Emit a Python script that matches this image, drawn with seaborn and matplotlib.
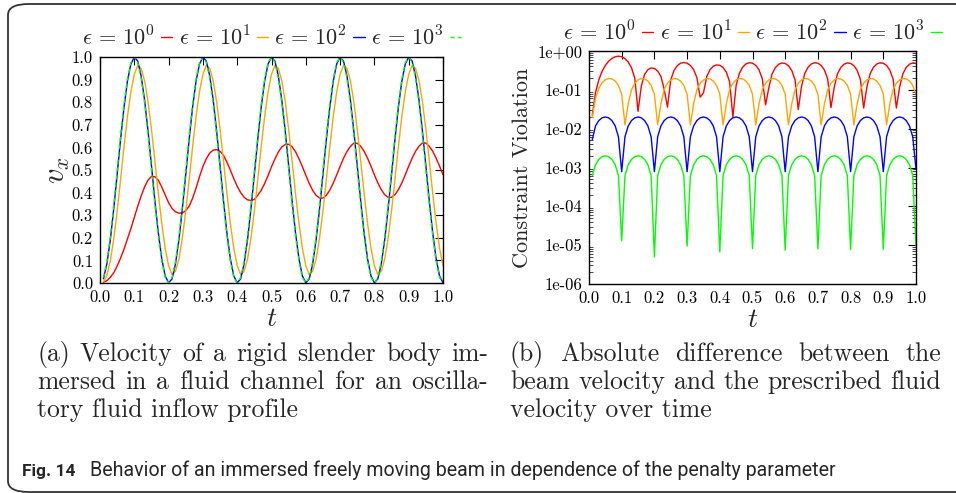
import numpy as np
import pandas as pd
import matplotlib
matplotlib.use("Agg")
import matplotlib.pyplot as plt
import matplotlib.ticker as mticker
from matplotlib.patches import FancyBboxPatch
import seaborn as sns

# ---------------- data ----------------
t = np.round(np.linspace(0.01, 1.0, 100), 2)

labels = [r"$\epsilon\,=\,10^0$", r"$\epsilon\,=\,10^1$", r"$\epsilon\,=\,10^2$", r"$\epsilon\,=\,10^3$"]
colors = ["#ff0000", "#ffa500", "#0000ff", "#00ff00"]

# (a) velocity v_x
vel_eps1 = [0.003, 0.010, 0.025, 0.045, 0.075, 0.110, 0.150, 0.195, 0.240, 0.290,
            0.340, 0.385, 0.425, 0.455, 0.472, 0.470, 0.455, 0.425, 0.390, 0.355,
            0.330, 0.315, 0.309, 0.310, 0.320, 0.340, 0.375, 0.420, 0.470, 0.515,
            0.550, 0.575, 0.588, 0.590, 0.583, 0.565, 0.535, 0.500, 0.462, 0.428,
            0.400, 0.380, 0.368, 0.365, 0.370, 0.388, 0.410, 0.440, 0.476, 0.514,
            0.549, 0.580, 0.602, 0.613, 0.614, 0.603, 0.581, 0.550, 0.515, 0.477,
            0.441, 0.410, 0.388, 0.376, 0.376, 0.388, 0.411, 0.442, 0.478, 0.516,
            0.552, 0.582, 0.604, 0.619, 0.618, 0.605, 0.583, 0.552, 0.517, 0.479,
            0.443, 0.413, 0.391, 0.379, 0.379, 0.391, 0.413, 0.443, 0.479, 0.517,
            0.552, 0.583, 0.605, 0.620, 0.619, 0.605, 0.583, 0.552, 0.517, 0.479]
vel_eps10 = [0.005, 0.034, 0.097, 0.194, 0.318, 0.458, 0.602, 0.736, 0.846, 0.923,
             0.963, 0.949, 0.895, 0.802, 0.680, 0.541, 0.397, 0.264, 0.154, 0.077,
             0.037, 0.052, 0.105, 0.198, 0.320, 0.459, 0.603, 0.736, 0.846, 0.923,
             0.963, 0.949, 0.895, 0.802, 0.680, 0.541, 0.397, 0.264, 0.154, 0.077,
             0.037, 0.052, 0.105, 0.198, 0.320, 0.459, 0.603, 0.736, 0.846, 0.923,
             0.963, 0.949, 0.895, 0.802, 0.680, 0.541, 0.397, 0.264, 0.154, 0.077,
             0.037, 0.052, 0.105, 0.198, 0.320, 0.459, 0.603, 0.736, 0.846, 0.923,
             0.963, 0.949, 0.895, 0.802, 0.680, 0.541, 0.397, 0.264, 0.154, 0.077,
             0.037, 0.052, 0.105, 0.198, 0.320, 0.459, 0.603, 0.736, 0.846, 0.923,
             0.963, 0.949, 0.895, 0.802, 0.680, 0.541, 0.397, 0.264, 0.154, 0.077]
vel_eps100 = [0.019, 0.084, 0.190, 0.327, 0.480, 0.636, 0.778, 0.893, 0.969, 0.999,
              0.982, 0.916, 0.810, 0.673, 0.520, 0.364, 0.222, 0.107, 0.031, 0.001,
              0.018, 0.084, 0.190, 0.327, 0.480, 0.636, 0.778, 0.893, 0.969, 0.999,
              0.982, 0.916, 0.810, 0.673, 0.520, 0.364, 0.222, 0.107, 0.031, 0.001,
              0.018, 0.084, 0.190, 0.327, 0.480, 0.636, 0.778, 0.893, 0.969, 0.999,
              0.982, 0.916, 0.810, 0.673, 0.520, 0.364, 0.222, 0.107, 0.031, 0.001,
              0.018, 0.084, 0.190, 0.327, 0.480, 0.636, 0.778, 0.893, 0.969, 0.999,
              0.982, 0.916, 0.810, 0.673, 0.520, 0.364, 0.222, 0.107, 0.031, 0.001,
              0.018, 0.084, 0.190, 0.327, 0.480, 0.636, 0.778, 0.893, 0.969, 0.999,
              0.982, 0.916, 0.810, 0.673, 0.520, 0.364, 0.222, 0.107, 0.031, 0.001]
vel_eps1000 = [0.024, 0.094, 0.204, 0.344, 0.498, 0.653, 0.792, 0.903, 0.975, 1.000,
               0.976, 0.906, 0.796, 0.656, 0.502, 0.347, 0.208, 0.097, 0.025, 0.000,
               0.024, 0.094, 0.204, 0.344, 0.498, 0.653, 0.792, 0.903, 0.975, 1.000,
               0.976, 0.906, 0.796, 0.656, 0.502, 0.347, 0.208, 0.097, 0.025, 0.000,
               0.024, 0.094, 0.204, 0.344, 0.498, 0.653, 0.792, 0.903, 0.975, 1.000,
               0.976, 0.906, 0.796, 0.656, 0.502, 0.347, 0.208, 0.097, 0.025, 0.000,
               0.024, 0.094, 0.204, 0.344, 0.498, 0.653, 0.792, 0.903, 0.975, 1.000,
               0.976, 0.906, 0.796, 0.656, 0.502, 0.347, 0.208, 0.097, 0.025, 0.000,
               0.024, 0.094, 0.204, 0.344, 0.498, 0.653, 0.792, 0.903, 0.975, 1.000,
               0.976, 0.906, 0.796, 0.656, 0.502, 0.347, 0.208, 0.097, 0.025, 0.000]

# (b) constraint violation (log scale)
cv_eps1 = [0.022, 0.086, 0.181, 0.300, 0.425, 0.545, 0.644, 0.710, 0.736, 0.710,
           0.636, 0.520, 0.369, 0.200, 0.028, 0.125, 0.249, 0.330, 0.366, 0.355,
           0.306, 0.220, 0.103, 0.036, 0.180, 0.315, 0.419, 0.485, 0.506, 0.485,
           0.426, 0.330, 0.206, 0.065, 0.083, 0.220, 0.329, 0.405, 0.438, 0.428,
           0.376, 0.285, 0.162, 0.020, 0.130, 0.267, 0.384, 0.465, 0.500, 0.486,
           0.427, 0.325, 0.192, 0.041, 0.114, 0.258, 0.375, 0.455, 0.491, 0.477,
           0.417, 0.315, 0.182, 0.031, 0.124, 0.267, 0.383, 0.463, 0.498, 0.484,
           0.424, 0.323, 0.190, 0.035, 0.118, 0.260, 0.377, 0.457, 0.493, 0.479,
           0.419, 0.318, 0.185, 0.034, 0.121, 0.264, 0.381, 0.462, 0.497, 0.483,
           0.424, 0.322, 0.189, 0.034, 0.119, 0.260, 0.377, 0.457, 0.493, 0.479]
cv_eps10 = [0.0195, 0.0615, 0.109, 0.152, 0.182, 0.196, 0.192, 0.168, 0.130, 0.077,
            0.0125, 0.044, 0.101, 0.148, 0.180, 0.196, 0.191, 0.169, 0.130, 0.077,
            0.0125, 0.044, 0.101, 0.148, 0.180, 0.196, 0.191, 0.168, 0.130, 0.077,
            0.0125, 0.044, 0.101, 0.148, 0.180, 0.196, 0.191, 0.169, 0.130, 0.077,
            0.0125, 0.044, 0.101, 0.148, 0.180, 0.196, 0.191, 0.168, 0.130, 0.077,
            0.0125, 0.044, 0.101, 0.148, 0.180, 0.196, 0.191, 0.169, 0.130, 0.077,
            0.0125, 0.044, 0.101, 0.148, 0.180, 0.196, 0.191, 0.168, 0.130, 0.077,
            0.0125, 0.044, 0.101, 0.148, 0.180, 0.196, 0.191, 0.169, 0.130, 0.077,
            0.0125, 0.044, 0.101, 0.148, 0.180, 0.196, 0.191, 0.168, 0.130, 0.077,
            0.0125, 0.044, 0.101, 0.148, 0.180, 0.196, 0.191, 0.169, 0.130, 0.077]
cv_eps100 = [0.0052, 0.0118, 0.0162, 0.0190, 0.0200, 0.0190, 0.0162, 0.0118, 0.0062, 0.00078,
             0.0062, 0.0118, 0.0162, 0.0190, 0.0200, 0.0190, 0.0162, 0.0118, 0.0062, 0.00078,
             0.0062, 0.0118, 0.0162, 0.0190, 0.0200, 0.0190, 0.0162, 0.0118, 0.0062, 0.00078,
             0.0062, 0.0118, 0.0162, 0.0190, 0.0200, 0.0190, 0.0162, 0.0118, 0.0062, 0.00078,
             0.0062, 0.0118, 0.0162, 0.0190, 0.0200, 0.0190, 0.0162, 0.0118, 0.0062, 0.00078,
             0.0062, 0.0118, 0.0162, 0.0190, 0.0200, 0.0190, 0.0162, 0.0118, 0.0062, 0.00078,
             0.0062, 0.0118, 0.0162, 0.0190, 0.0200, 0.0190, 0.0162, 0.0118, 0.0062, 0.00078,
             0.0062, 0.0118, 0.0162, 0.0190, 0.0200, 0.0190, 0.0162, 0.0118, 0.0062, 0.00078,
             0.0062, 0.0118, 0.0162, 0.0190, 0.0200, 0.0190, 0.0162, 0.0118, 0.0062, 0.00078,
             0.0062, 0.0118, 0.0162, 0.0190, 0.0200, 0.0190, 0.0162, 0.0118, 0.0062, 0.00090]
cv_eps1000 = [0.00062, 0.00118, 0.00162, 0.00190, 0.00200, 0.00190, 0.00162, 0.00118, 0.00062, 1.3e-5,
              0.00062, 0.00118, 0.00162, 0.00190, 0.00200, 0.00190, 0.00162, 0.00118, 0.00062, 5.0e-6,
              0.00062, 0.00118, 0.00162, 0.00190, 0.00200, 0.00190, 0.00162, 0.00118, 0.00062, 9.5e-6,
              0.00062, 0.00118, 0.00162, 0.00190, 0.00200, 0.00190, 0.00162, 0.00118, 0.00062, 6.7e-6,
              0.00062, 0.00118, 0.00162, 0.00190, 0.00200, 0.00190, 0.00162, 0.00118, 0.00062, 8.2e-6,
              0.00062, 0.00118, 0.00162, 0.00190, 0.00200, 0.00190, 0.00162, 0.00118, 0.00062, 7.4e-6,
              0.00062, 0.00118, 0.00162, 0.00190, 0.00200, 0.00190, 0.00162, 0.00118, 0.00062, 8.0e-6,
              0.00062, 0.00118, 0.00162, 0.00190, 0.00200, 0.00190, 0.00162, 0.00118, 0.00062, 7.7e-6,
              0.00062, 0.00118, 0.00162, 0.00190, 0.00200, 0.00190, 0.00162, 0.00118, 0.00062, 7.8e-6,
              0.00062, 0.00118, 0.00162, 0.00190, 0.00200, 0.00190, 0.00162, 0.00118, 0.00062, 1.0e-5]

xticks = [0.0, 0.1, 0.2, 0.3, 0.4, 0.5, 0.6, 0.7, 0.8, 0.9, 1.0]
yticks_a = [0.0, 0.1, 0.2, 0.3, 0.4, 0.5, 0.6, 0.7, 0.8, 0.9, 1.0]
yticks_b = [1e-6, 1e-5, 1e-4, 1e-3, 1e-2, 1e-1, 1e0]

caption_a = ["(a) Velocity of a rigid slender body im-",
             "mersed in a fluid channel for an oscilla-",
             "tory fluid inflow profile"]
caption_b = ["(b) Absolute difference between the",
             "beam velocity and the prescribed fluid",
             "velocity over time"]
fig_label = "Fig. 14"
fig_caption = "Behavior of an immersed freely moving beam in dependence of the penalty parameter"

# ---------------- style ----------------
sns.set_theme(style="white")
plt.rcParams["font.family"] = ["serif"]
plt.rcParams["font.serif"] = ["cmr10"]
plt.rcParams["mathtext.fontset"] = "cm"
plt.rcParams["axes.formatter.use_mathtext"] = True
plt.rcParams["axes.unicode_minus"] = False

W, H = 956, 493
fig = plt.figure(figsize=(W / 100, H / 100), dpi=100)
fig.patch.set_facecolor("white")


def fx(px):
    return px / W


def fy(py):
    return 1 - py / H


ax1 = fig.add_axes([fx(100), fy(283), fx(443) - fx(100), fy(57) - fy(283)])
ax2 = fig.add_axes([fx(589), fy(284), fx(916) - fx(589), fy(51) - fy(284)])

df_a = pd.DataFrame({"t": t, "e0": vel_eps1, "e1": vel_eps10, "e2": vel_eps100, "e3": vel_eps1000})
df_b = pd.DataFrame({"t": t, "e0": cv_eps1, "e1": cv_eps10, "e2": cv_eps100, "e3": cv_eps1000})
keys = ["e0", "e1", "e2", "e3"]

for i, k in enumerate(keys):
    ls = (0, (3, 2.5)) if k == "e3" else "-"
    sns.lineplot(data=df_a, x="t", y=k, ax=ax1, color=colors[i], linewidth=1.0,
                 linestyle=ls, legend=False, label=labels[i], sort=False)
    sns.lineplot(data=df_b, x="t", y=k, ax=ax2, color=colors[i], linewidth=1.0,
                 legend=False, label=labels[i], sort=False)

for ax in (ax1, ax2):
    ax.set_xlim(0, 1)
    ax.set_xticks(xticks)
    ax.xaxis.set_major_formatter(mticker.FormatStrFormatter("%.1f"))
    for s in ax.spines.values():
        s.set_color("black")
        s.set_linewidth(1.0)
    ax.tick_params(which="major", direction="in", top=True, right=True, length=6,
                   width=0.8, labelsize=12, pad=5, colors="black")
    ax.set_xlabel(r"$t$", fontsize=20, labelpad=0)
    ax.grid(False)
    ax.set_facecolor("white")

ax1.set_ylim(0, 1)
ax1.set_yticks(yticks_a)
ax1.yaxis.set_major_formatter(mticker.FormatStrFormatter("%.1f"))
ax1.set_ylabel(r"$v_x$", fontsize=22, labelpad=0)

ax2.set_yscale("log")
ax2.set_ylim(1e-6, 1e0)
ax2.set_yticks(yticks_b)
ax2.yaxis.set_major_formatter(mticker.FormatStrFormatter("%.0e"))
ax2.yaxis.set_minor_locator(mticker.LogLocator(base=10, subs=np.arange(2, 10)))
ax2.yaxis.set_minor_formatter(mticker.NullFormatter())
ax2.tick_params(which="minor", direction="in", left=True, right=True, length=3, width=0.6)
ax2.set_ylabel("Constraint Violation", fontsize=16, labelpad=4)

for ax, yoff in ((ax1, 1.03), (ax2, 1.025)):
    h = ax.get_lines()[:4]
    ax.legend(h, labels, loc="lower center", bbox_to_anchor=(0.5, yoff), ncol=4,
              frameon=False, markerfirst=False, handlelength=0.5, handletextpad=0.28,
              columnspacing=0.28, fontsize=16, borderaxespad=0.0, borderpad=0.05)

# border
box = FancyBboxPatch((fx(8), fy(492)), fx(1000) - fx(8), fy(4) - fy(492),
                     boxstyle="round,pad=0,rounding_size=0.022", transform=fig.transFigure,
                     facecolor="none", edgecolor="#333333", linewidth=1.3, clip_on=False)
fig.add_artist(box)

# captions (justified)
fig.canvas.draw()
renderer = fig.canvas.get_renderer()


def place_line(text, left, right, baseline, justify, size=18.5):
    words = text.split(" ")
    if not justify:
        fig.text(fx(left), fy(baseline), text, fontsize=size, va="baseline", ha="left")
        return
    arts = [fig.text(0, fy(baseline), w, fontsize=size, va="baseline", ha="left") for w in words]
    widths = [a.get_window_extent(renderer).width for a in arts]
    gap = (right - left - sum(widths)) / (len(words) - 1)
    x = left
    for a, w in zip(arts, widths):
        a.set_x(fx(x))
        x += w + gap


for lines, left, right in ((caption_a, 37, 488), (caption_b, 510, 941)):
    for j, ln in enumerate(lines):
        place_line(ln, left, right, 361 + 28 * j, justify=(j < len(lines) - 1))

sans = ["Liberation Sans Narrow", "Roboto", "DejaVu Sans"]
t1 = fig.text(fx(22), fy(476), fig_label, fontsize=12.5, fontweight="bold", family=sans, va="baseline")
t2 = fig.text(fx(90), fy(476), fig_caption, fontsize=14, family=sans, va="baseline")
fig.canvas.draw()
w2 = t2.get_window_extent(renderer).width
t2.set_fontsize(14 * (840 - 90) / w2)

fig.savefig("out.png", dpi=100, facecolor="white")
